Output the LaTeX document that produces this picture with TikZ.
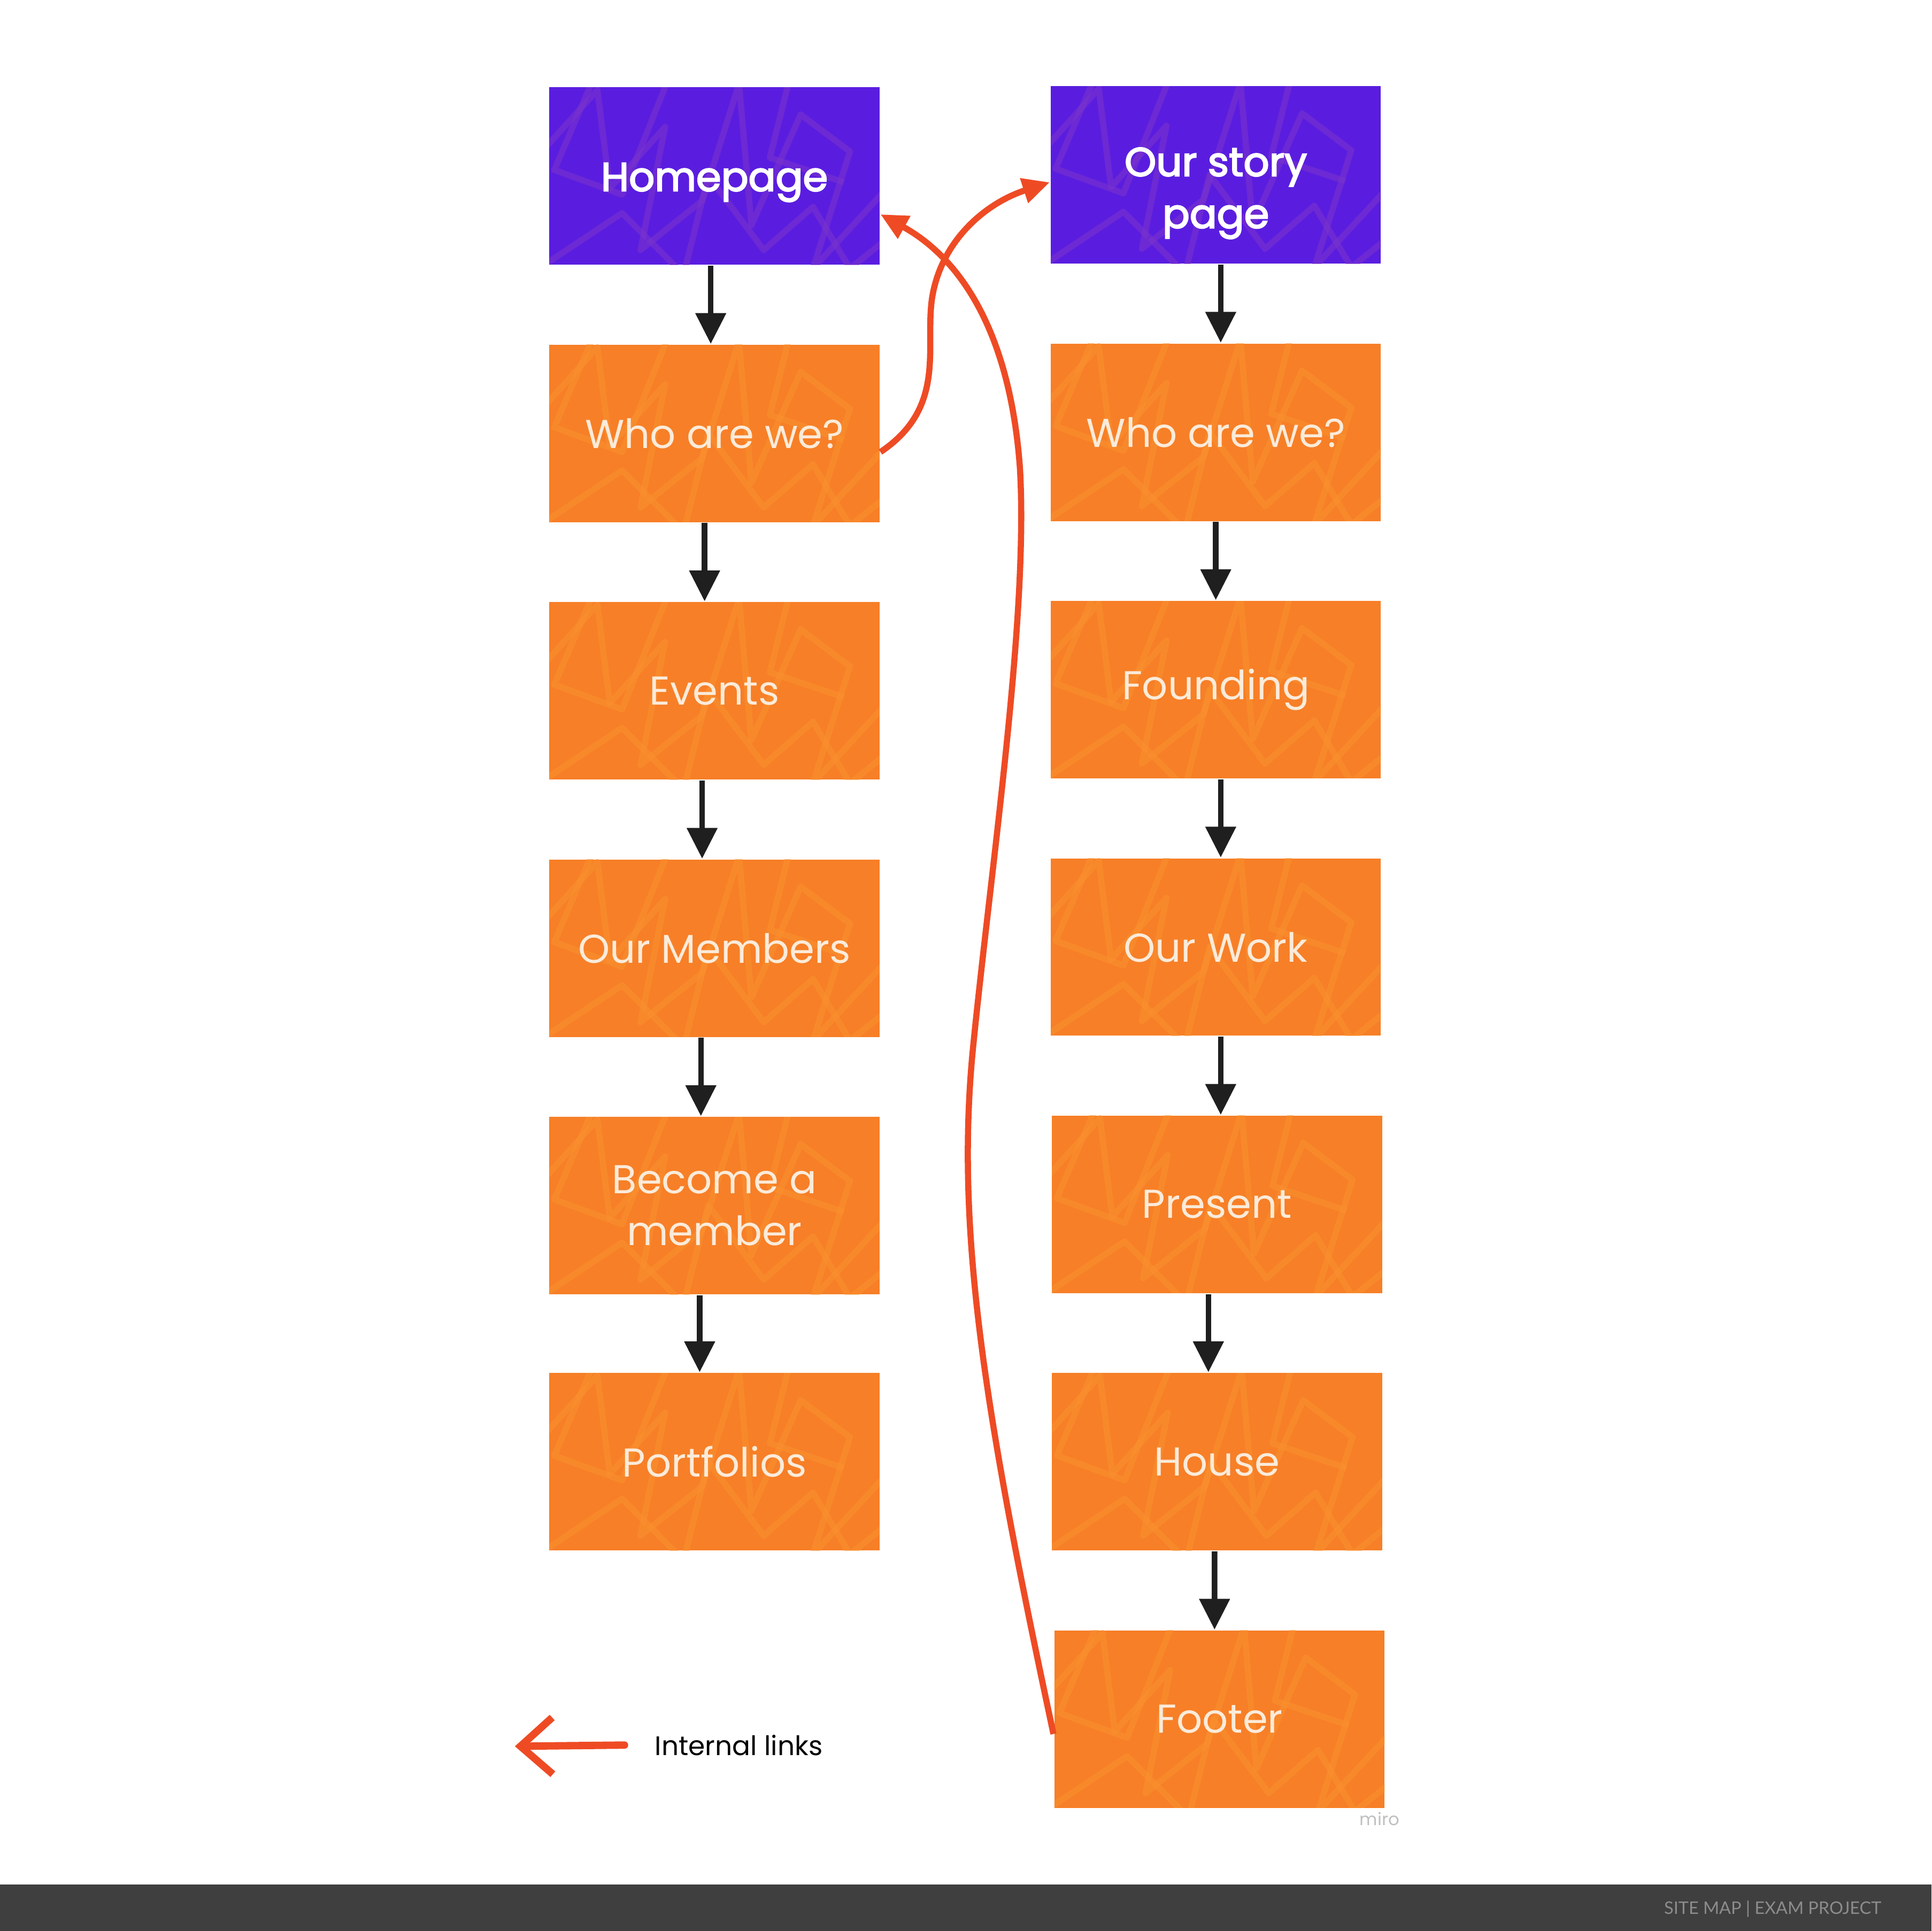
\documentclass[tikz,border=0pt]{standalone}
\usepackage{fontspec}
\setmainfont{Poppins}
\newfontfamily\headfont{Poppins}[FakeBold=3]
\newfontfamily\barfont{Lato}
\usetikzlibrary{arrows.meta}
\definecolor{pagepurple}{HTML}{5A1DDF}
\definecolor{pageorange}{HTML}{F77F27}
\definecolor{scribbleorange}{HTML}{FA9230}
\definecolor{scribblepurple}{HTML}{7B34CC}
\definecolor{linkred}{HTML}{EE4B25}
\definecolor{boxtext}{HTML}{FBEBDA}
\definecolor{barback}{HTML}{3F3F3F}
\definecolor{bartext}{HTML}{8C8C8C}
\tikzset{
  scribble/.style={path picture={
    \draw[#1, line width=0.05cm, line join=round, opacity=.55]
      ([shift={(-140,-20)}]path picture bounding box.center) -- ++(45,-50) -- ++(10,80)
      -- ++(45,-50) -- ++(-20,100) -- ++(50,-40) -- ++(30,-95) -- ++(10,115)
      -- ++(40,-90) -- ++(40,30) -- ++(-30,95) -- ++(60,-65);
    \draw[#1, line width=0.05cm, line join=round, opacity=.55]
      ([shift={(-135,70)}]path picture bounding box.center) -- ++(60,-40) -- ++(50,50)
      -- ++(20,-80) -- ++(45,60) -- ++(40,-35) -- ++(30,50) -- ++(50,-40);
    \draw[#1, line width=0.05cm, line join=round, opacity=.55]
      ([shift={(-100,-75)}]path picture bounding box.center) -- ++(-30,70) -- ++(55,20)
      -- ++(40,-100) (path picture bounding box.center) ++(60,-75) -- ++(-15,60) -- ++(60,20);
  }},
  mainpage/.style={fill=pagepurple, scribble=scribblepurple, text=white,
    minimum width=2.68cm, minimum height=1.44cm, align=center,
    font=\headfont\fontsize{9.3pt}{12pt}\selectfont},
  subpage/.style={fill=pageorange, scribble=scribbleorange, text=boxtext,
    minimum width=2.68cm, minimum height=1.44cm, align=center,
    font=\fontsize{9.3pt}{12pt}\selectfont},
  flow/.style={-{Triangle[length=0.25cm,width=0.24cm]}, line width=0.045cm, black!88},
  link/.style={-{Triangle[length=0.22cm,width=0.2cm]}, line width=0.05cm, linkred}
}
\begin{document}
\begin{tikzpicture}[x=0.01cm, y=-0.01cm]
  \useasboundingbox (0,0) rectangle (1568,1568);

  \node[mainpage, text height=0.33cm] (home) at (580,143) {Homepage};
  \node[subpage] (wholeft) at (580,352) {Who are we?};
  \node[subpage] (events) at (580,561) {Events};
  \node[subpage] (members) at (580,770) {Our Members};
  \node[subpage] (become) at (580,979) {Become a\\member};
  \node[subpage] (portfolios) at (580,1187) {Portfolios};

  \node[mainpage, text height=0.95cm] (story) at (987,142) {Our story\\page};
  \node[subpage] (whoright) at (987,351) {Who are we?};
  \node[subpage] (founding) at (987,560) {Founding};
  \node[subpage] (work) at (987,769) {Our Work};
  \node[subpage] (present) at (988,978) {Present};
  \node[subpage] (house) at (988,1187) {House};
  \node[subpage] (footer) at (990,1396) {Footer};

  \draw[flow] ([xshift=-0.03cm]home.south) -- ([xshift=-0.03cm]wholeft.north);
  \draw[flow] ([xshift=-0.08cm]wholeft.south) -- ([xshift=-0.08cm]events.north);
  \draw[flow] ([xshift=-0.1cm]events.south) -- ([xshift=-0.1cm]members.north);
  \draw[flow] ([xshift=-0.11cm]members.south) -- ([xshift=-0.11cm]become.north);
  \draw[flow] ([xshift=-0.12cm]become.south) -- ([xshift=-0.12cm]portfolios.north);
  \draw[flow] ([xshift=0.04cm]story.south) -- ([xshift=0.04cm]whoright.north);
  \draw[flow] (whoright) -- (founding);
  \draw[flow] ([xshift=0.04cm]founding.south) -- ([xshift=0.04cm]work.north);
  \draw[flow] ([xshift=0.04cm]work.south) -- ([xshift=0.03cm]present.north);
  \draw[flow] ([xshift=-0.07cm]present.south) -- ([xshift=-0.07cm]house.north);
  \draw[flow] ([xshift=-0.02cm]house.south) -- ([xshift=-0.04cm]footer.north);

  \draw[link] ([yshift=-0.15cm]wholeft.east) .. controls (770,330) and (750,280) .. (757,240)
    .. controls (765,195) and (800,165) .. ([yshift=-0.06cm]story.west);
  \draw[link] ([yshift=-0.12cm]footer.west) .. controls (800,1150) and (775,1000) .. (790,850)
    .. controls (805,700) and (835,500) .. (828,380)
    .. controls (820,270) and (780,210) .. ([yshift=-0.31cm]home.east);

  \node[anchor=west, inner sep=0, font=\fontsize{6.2pt}{7pt}\selectfont] (legend) at (531,1417) {Internal links};
  \coordinate (legendtip) at (418,1418);
  \draw[-{Straight Barb[length=0.26cm,width=0.46cm]}, line width=0.06cm, line cap=round, linkred]
    ([xshift=-0.24cm]legend.west) -- (legendtip);

  \node[text=black!25, font=\fontsize{4pt}{4pt}\selectfont] (miro) at (1120,1477) {miro};

  \fill[barback] (0,1530) rectangle (1568,1568);
  \node[anchor=east, inner sep=0, text=bartext, font=\barfont\fontsize{4pt}{5pt}\selectfont] (bartitle) at (1528,1550) {SITE MAP | EXAM PROJECT};
\end{tikzpicture}
\end{document}
